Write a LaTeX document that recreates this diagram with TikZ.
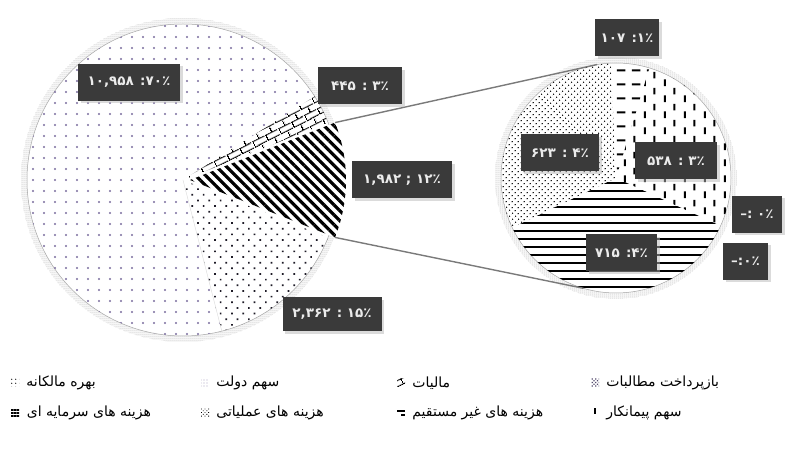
\documentclass[tikz,border=0pt]{standalone}
\usepackage{fontspec}
\newfontfamily\pfont[Script=Arabic]{DejaVu Sans}
\TeXXeTstate=1
\usetikzlibrary{positioning,patterns.meta,shadows}

\definecolor{boxgray}{HTML}{3A3A3A}
\definecolor{dotpurple}{HTML}{7A6C9E}
\definecolor{linkgray}{HTML}{7A7A7A}

% own fill patterns
\tikzdeclarepattern{
    name=hdashes, type=uncolored,
    bottom left={(0pt,0pt)}, top right={(15pt,14pt)},
    tile size={(15pt,14pt)},
    code={\tikzset{x=1pt,y=1pt}
          \draw[line width=2pt] (2,7) -- (11,7);}
}
\tikzdeclarepattern{
    name=vdashes, type=uncolored,
    bottom left={(0pt,0pt)}, top right={(20pt,16pt)},
    tile size={(20pt,16pt)},
    code={\tikzset{x=1pt,y=1pt}
          \draw[line width=2pt] (5,1) -- (5,8) (15,9) -- (15,16);}
}
\tikzdeclarepattern{
    name=brickwall, type=uncolored,
    bottom left={(0pt,0pt)}, top right={(14pt,12pt)},
    tile size={(14pt,12pt)},
    tile transformation={rotate=27},
    code={\tikzset{x=1pt,y=1pt}
          \draw[line width=1.1pt] (0,.6) -- (14,.6) (0,6.6) -- (14,6.6)
                (.6,.6) -- (.6,6.6) (7.6,6.6) -- (7.6,12);}
}

\tikzset{
    %halftone rim round the pies
    halftone/.style={
           pattern={Dots[distance=2pt,radius=.5pt]},
           pattern color=gray!80},
    rim/.style={draw=gray!70, line width=.5pt},
    %dark value boxes
    valbox/.style={
           rectangle,
           fill=boxgray,
           text=white!92!black,
           font=\pfont\bfseries\fontsize{13.5}{13.5}\selectfont,
           minimum height=37pt,
           inner xsep=2pt,
           drop shadow={shadow xshift=2.5pt, shadow yshift=-2.5pt, fill=gray!55}},
    link/.style={draw=linkgray, line width=1.4pt},
    %legend
    key/.style={minimum size=8pt, inner sep=0pt},
    keytext/.style={font=\pfont\fontsize{14}{14}\selectfont, inner sep=0pt}
}

\begin{document}
\begin{tikzpicture}[x=1pt, y=1pt]
 \useasboundingbox[fill=white] (0,0) rectangle (785,455);
 \coordinate (main) at (183,275);
 \coordinate (cut) at (190,275);
 \coordinate (detail) at (616,277);
 \fill[halftone] (main) circle[radius=162];
 \fill[halftone] (detail) circle[radius=121];

 % main pie
 \filldraw[rim, fill=white] (main) circle[radius=156];
 \fill[pattern color=dotpurple, pattern={Dots[distance=11pt,radius=1.1pt]}]
   (main) -- ++(32.4:156) arc[start angle=32.4, end angle=284.4, radius=156] -- cycle;
 \fill[pattern color=black!75!dotpurple, pattern={Dots[distance=8pt,radius=1.2pt,angle=45]}]
   (main) -- ++(284.4:156) arc[start angle=284.4, end angle=338.4, radius=156] -- cycle;
 \draw[gray!30] (main) -- ++(284.4:156);
 \fill[pattern=brickwall]
   (main) -- ++(21.6:156) arc[start angle=21.6, end angle=32.4, radius=156] -- cycle;
 \fill[white] (cut) -- ++(-21.6:156) arc[start angle=-21.6, end angle=21.6, radius=156] -- cycle;
 \fill[pattern={Lines[angle=-45,distance=7pt,line width=3.2pt]}]
   (cut) -- ++(-21.6:156) arc[start angle=-21.6, end angle=21.6, radius=156] -- cycle;

 % detail pie
 \filldraw[rim, fill=white] (detail) circle[radius=115];
 \fill[pattern={Lines[distance=8pt,line width=2.2pt]}]
   (detail) -- ++(205.6:115) arc[start angle=205.6, end angle=335.4, radius=115] -- cycle;
 \fill[pattern=vdashes]
   (detail) -- ++(335.4:115) arc[start angle=335.4, end angle=433.1, radius=115] -- cycle;
 \fill[pattern=hdashes]
   (detail) -- ++(73.1:115) arc[start angle=73.1, end angle=92.5, radius=115] -- cycle;
 \fill[pattern={Dots[distance=4pt,radius=.8pt,angle=45]}]
   (detail) -- ++(92.5:115) arc[start angle=92.5, end angle=205.6, radius=115] -- cycle;

 % connectors
 \coordinate (cuttop) at ([shift={(21.6:156)}]cut);
 \coordinate (cutbot) at ([shift={(-21.6:156)}]cut);
 \coordinate (detailtop) at ([shift={(99.5:115)}]detail);
 \coordinate (detailbot) at ([shift={(253.6:115)}]detail);
 \draw[link] (cuttop) -- (detailtop);
 \draw[link] (cutbot) -- (detailbot);

 % value boxes
 \node[valbox, minimum width=102pt] (share70) at (129,372.5) {\beginR ۷۰٪: ۱۰,۹۵۸\endR};
 \node[valbox, minimum width=84pt] (share3) at (360,369) {\beginR ۳٪ : ۴۴۵\endR};
 \node[valbox, minimum width=100pt] (share12) at (402,275) {\beginR ۱۲٪ ; ۱,۹۸۲\endR};
 \node[valbox, minimum width=99pt, minimum height=34pt] (share15) at (332,140.5) {\beginR ۱۵٪ : ۲,۳۶۲\endR};
 \node[valbox, minimum width=64pt] (part107) at (627,417) {\beginR ۱٪: ۱۰۷\endR};
 \node[valbox, minimum width=78pt] (part623) at (560,302) {\beginR ۴٪ : ۶۲۳\endR};
 \node[valbox, minimum width=82pt] (part538) at (676,294) {\beginR ۳٪ : ۵۳۸\endR};
 \node[valbox, minimum width=71pt] (part715) at (621.5,202) {\beginR ۴٪: ۷۱۵\endR};
 \node[valbox, minimum width=50pt] (zeroa) at (757,240.5) {\beginR ۰٪ :–\endR};
 \node[valbox, minimum width=45pt] (zerob) at (745.5,193.5) {\beginR ۰٪:–\endR};

 % legend
 \node[key, pattern={Dots[distance=4pt,radius=.8pt]}] (k1) at (15,72) {};
 \node[keytext, right=7pt of k1] (l1) {\beginR بهره مالکانه\endR};
 \node[key, pattern color=dotpurple!60, pattern={Dots[distance=3pt,radius=.7pt]}] (k2) at (205,72) {};
 \node[keytext, right=7pt of k2] (l2) {\beginR سهم دولت\endR};
 \node[key, pattern=brickwall] (k3) at (401,72) {};
 \node[keytext, right=7pt of k3] (l3) {\beginR مالیات\endR};
 \node[key, pattern color=dotpurple!70!black, pattern={Dots[distance=2.5pt,radius=.8pt,angle=45]}] (k4) at (595,72) {};
 \node[keytext, right=7pt of k4] (l4) {\beginR بازپرداخت مطالبات\endR};
 \node[key, pattern={Lines[distance=3pt,line width=1.2pt]}] (k5) at (15,42) {};
 \node[keytext, right=7pt of k5] (l5) {\beginR هزینه های سرمایه ای\endR};
 \node[key, pattern={Dots[distance=2.5pt,radius=.6pt,angle=45]}] (k6) at (205,42) {};
 \node[keytext, right=7pt of k6] (l6) {\beginR هزینه های عملیاتی\endR};
 \node[key, path picture={\draw[line width=1.5pt]
     ([yshift=2pt]path picture bounding box.west) -- ([yshift=2pt]path picture bounding box.east)
     ([yshift=-2pt]path picture bounding box.center) -- ([yshift=-2pt]path picture bounding box.east);}] (k7) at (401,42) {};
 \node[keytext, right=7pt of k7] (l7) {\beginR هزینه های غیر مستقیم\endR};
 \node[key, pattern=vdashes] (k8) at (595,42) {};
 \node[keytext, right=7pt of k8] (l8) {\beginR سهم پیمانکار\endR};
\end{tikzpicture}
\end{document}
